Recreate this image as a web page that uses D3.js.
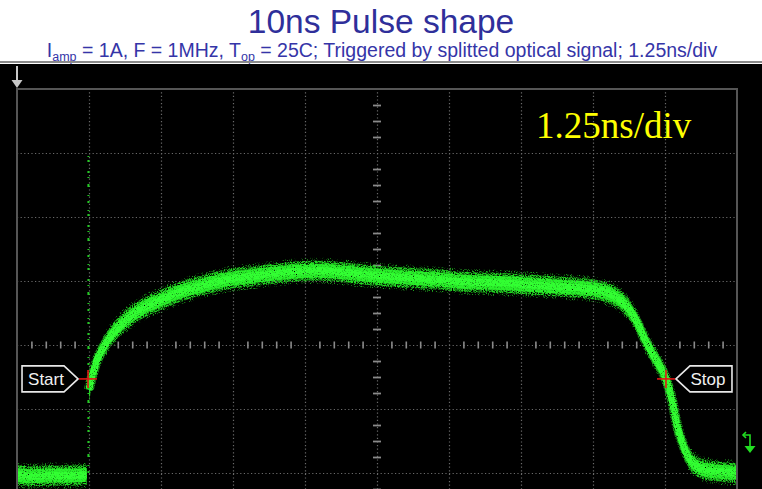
<!DOCTYPE html>
<html>
<head>
<meta charset="utf-8">
<script src="https://cdn.jsdelivr.net/npm/d3@7/dist/d3.min.js"></script>
<style>
  html, body { margin: 0; padding: 0; background: #ffffff; }
  svg { display: block; }
</style>
</head>
<body>
<svg id="chart" width="762" height="489"></svg>
<script>
// ---------------- DATA ----------------
const titleText = "10ns Pulse shape";
const timePerDiv = 1.25;            // ns / div
const hDivisions = 10;
const vDivisions = 8;
const scaleLabel = "1.25ns/div";

// Trace before the trigger edge (time in ns, level in divisions from centre)
const preTriggerTime  = [0.00, 0.30, 0.60, 0.90, 1.21];
const preTriggerLevel = [-2.03, -2.05, -2.04, -2.04, -2.03];

// Sparse trigger edge (single time, level range)
const edgeTime = 1.24;
const edgeLevels = [-2.0, 3.0];

// Main pulse trace
const pulseTime  = [1.25, 1.285, 1.337, 1.389, 1.476, 1.580, 1.701, 1.875, 2.135, 2.483, 2.830, 3.177, 3.698, 4.219, 4.740, 5.260, 5.781, 6.302, 6.823, 7.344, 7.865, 8.385, 8.906, 9.427, 9.948, 10.208, 10.434, 10.608, 10.764, 10.903, 11.076, 11.267, 11.372, 11.458, 11.563, 11.667, 11.771, 11.944, 12.205, 12.50];
const pulseLevel = [-0.70, -0.55, -0.39, -0.23, -0.08, 0.08, 0.22, 0.375, 0.55, 0.70, 0.83, 0.92, 1.03, 1.09, 1.14, 1.16, 1.125, 1.08, 1.05, 1.02, 0.98, 0.97, 0.94, 0.91, 0.875, 0.83, 0.73, 0.58, 0.36, 0.08, -0.20, -0.53, -0.86, -1.25, -1.56, -1.77, -1.875, -1.95, -1.98, -2.00];

// Cursor markers
const markerNames = ["Start", "Stop"];
const markerTime  = [1.233, 11.267];
const markerLevel = [-0.53, -0.53];

// ---------------- LAYOUT ----------------
const svg = d3.select("#chart");
const plotLeft = 17, plotTop = 89, divW = 72, divH = 64;
const plotW = divW * hDivisions, plotH = divH * vDivisions;

const x = d3.scaleLinear().domain([0, timePerDiv * hDivisions]).range([plotLeft, plotLeft + plotW]);
const y = d3.scaleLinear().domain([-vDivisions / 2, vDivisions / 2]).range([plotTop + plotH, plotTop]);

// ---------------- HEADER ----------------
svg.append("rect").attr("x", 0).attr("y", 0).attr("width", 762).attr("height", 64).attr("fill", "#ffffff");
svg.append("text")
  .attr("x", 381).attr("y", 33)
  .attr("text-anchor", "middle")
  .attr("font-family", "Liberation Sans, Arial, sans-serif")
  .attr("font-size", 33.5)
  .attr("fill", "#2f2f9a")
  .text(titleText);

const sub = svg.append("text")
  .attr("x", 382).attr("y", 57)
  .attr("text-anchor", "middle")
  .attr("font-family", "Liberation Sans, Arial, sans-serif")
  .attr("font-size", 19.5)
  .attr("fill", "#3535a8");
sub.append("tspan").text("I");
sub.append("tspan").attr("font-size", 12.5).attr("dy", 3.5).text("amp");
sub.append("tspan").attr("dy", -3.5).text(" = 1A, F = 1MHz, T");
sub.append("tspan").attr("font-size", 12.5).attr("dy", 3.5).text("op");
sub.append("tspan").attr("dy", -3.5).text(" = 25C; Triggered by splitted optical signal; 1.25ns/div");

svg.append("rect").attr("x", 0).attr("y", 61).attr("width", 762).attr("height", 2).attr("fill", "#8a8a8a");

// ---------------- SCOPE SCREEN ----------------
svg.append("rect").attr("x", 0).attr("y", 64).attr("width", 762).attr("height", 489 - 64).attr("fill", "#000000");

const defs = svg.append("defs");
function speckle(id, seed, freq, gain, offset) {
  const f = defs.append("filter").attr("id", id)
    .attr("filterUnits", "userSpaceOnUse")
    .attr("x", 0).attr("y", 0).attr("width", 762).attr("height", 489);
  f.append("feTurbulence").attr("type", "fractalNoise").attr("baseFrequency", freq)
    .attr("numOctaves", 2).attr("seed", seed).attr("result", "noise");
  f.append("feColorMatrix").attr("in", "noise").attr("type", "matrix")
    .attr("values", `0 0 0 0 0  0 0 0 0 0  0 0 0 0 0  ${gain} 0 0 0 ${offset}`).attr("result", "mask");
  f.append("feComposite").attr("in", "SourceGraphic").attr("in2", "mask").attr("operator", "in");
}
speckle("spSparse", 3, 0.95, 5, -2.7);
speckle("spMid", 11, 0.9, 4, -1.4);
speckle("spDense", 21, 0.9, 4, -0.9);

const screen = svg.append("g");

// Grid: verticals
const vGridVals = d3.range(1, hDivisions).map(i => i * timePerDiv);
const gV = screen.append("g")
  .attr("transform", `translate(0,${plotTop + plotH})`)
  .call(d3.axisBottom(x).tickValues(vGridVals).tickSize(-plotH).tickFormat(""));
gV.select(".domain").remove();
gV.selectAll("line").attr("stroke", "#6a6a6a").attr("stroke-width", 1.2).attr("stroke-dasharray", "1.2,2.4");

// Grid: horizontals
const hGridVals = d3.range(-vDivisions / 2 + 1, vDivisions / 2);
const gH = screen.append("g")
  .attr("transform", `translate(${plotLeft},0)`)
  .call(d3.axisLeft(y).tickValues(hGridVals).tickSize(-plotW).tickFormat(""));
gH.select(".domain").remove();
gH.selectAll("line").attr("stroke", "#6a6a6a").attr("stroke-width", 1.2).attr("stroke-dasharray", "1.2,2.4");

// Centre horizontal minor ticks (5 per div)
const hMinor = d3.range(1, hDivisions * 5).map(i => i * timePerDiv / 5).filter(v => Math.abs((v / timePerDiv) - Math.round(v / timePerDiv)) > 1e-6);
const gHC = screen.append("g")
  .attr("transform", `translate(0,${y(0)})`)
  .call(d3.axisBottom(x).tickValues(hMinor).tickSize(3.5).tickFormat(""));
gHC.select(".domain").remove();
gHC.selectAll("line").attr("y1", -3.5).attr("stroke", "#8a8a8a").attr("stroke-width", 1.6);

// Centre vertical minor ticks (4 per div)
const vMinor = d3.range(-vDivisions * 2 + 1, vDivisions * 2).map(i => i / 4).filter(v => Math.abs(v - Math.round(v)) > 1e-6);
const gVC = screen.append("g")
  .attr("transform", `translate(${x(timePerDiv * hDivisions / 2)},0)`)
  .call(d3.axisLeft(y).tickValues(vMinor).tickSize(4).tickFormat(""));
gVC.select(".domain").remove();
gVC.selectAll("line").attr("x2", 4).attr("x1", -4).attr("stroke", "#8a8a8a").attr("stroke-width", 1.8);

// ---------------- TRACE ----------------
const pulse = pulseTime.map((t, i) => ({ t, v: pulseLevel[i] }));
const pre = preTriggerTime.map((t, i) => ({ t, v: preTriggerLevel[i] }));

const trace = screen.append("g");
function band(data, half, color, filt) {
  const a = d3.area().x(d => x(d.t)).y0(d => y(d.v) + half).y1(d => y(d.v) - half).curve(d3.curveMonotoneX);
  trace.append("path").datum(data).attr("d", a).attr("fill", color).attr("filter", `url(#${filt})`);
}
function core(data, w, color, filt) {
  const l = d3.line().x(d => x(d.t)).y(d => y(d.v)).curve(d3.curveMonotoneX);
  trace.append("path").datum(data).attr("d", l).attr("fill", "none")
    .attr("stroke", color).attr("stroke-width", w).attr("stroke-linecap", "butt").attr("filter", `url(#${filt})`);
}
[pre, pulse].forEach(data => {
  band(data, 13, "#1faa1f", "spSparse");
  band(data, 10, "#22d822", "spMid");
  core(data, 10, "#1ea81e", "spMid");
  band(data, 7, "#2af02a", "spDense");
  core(data, 7, "#33ff33", "spDense");
});

// Sparse trigger edge
trace.append("line")
  .attr("x1", x(edgeTime)).attr("x2", x(edgeTime))
  .attr("y1", y(edgeLevels[0])).attr("y2", y(edgeLevels[1]))
  .attr("stroke", "#22cc22").attr("stroke-width", 2)
  .attr("stroke-dasharray", "2,5,1,8,3,6,1,4,2,9,2,3,1,7");

// Frame (drawn over trace ends)
screen.append("rect")
  .attr("x", x.range()[0]).attr("y", y.range()[1])
  .attr("width", x.range()[1] - x.range()[0]).attr("height", y.range()[0] - y.range()[1])
  .attr("fill", "none").attr("stroke", "#555555").attr("stroke-width", 2);

// ---------------- MARKERS ----------------
markerNames.forEach((name, i) => {
  const cx = x(markerTime[i]), cy = y(markerLevel[i]);
  const g = screen.append("g");
  const dir = i === 0 ? -1 : 1;
  const tip = cx + dir * 10, bodyStart = cx + dir * 24, end = cx + dir * 66;
  const pts = [[tip, cy], [bodyStart, cy - 13], [end, cy - 13], [end, cy + 13], [bodyStart, cy + 13]];
  g.append("polygon").attr("points", pts.map(p => p.join(",")).join(" "))
    .attr("fill", "#000").attr("stroke", "#e8e8e8").attr("stroke-width", 1.6);
  g.append("text")
    .attr("x", (bodyStart + end) / 2 + dir * -3).attr("y", cy + 6)
    .attr("text-anchor", "middle")
    .attr("font-family", "Liberation Sans, Arial, sans-serif")
    .attr("font-size", 17).attr("fill", "#f0f0f0")
    .text(name);
  g.append("line").attr("x1", cx - 9).attr("x2", cx + 9).attr("y1", cy).attr("y2", cy).attr("stroke", "#e01515").attr("stroke-width", 1.6);
  g.append("line").attr("x1", cx).attr("x2", cx).attr("y1", cy - 9).attr("y2", cy + 9).attr("stroke", "#e01515").attr("stroke-width", 1.6);
});

// ---------------- SCOPE ANNOTATIONS ----------------
screen.append("text")
  .attr("x", 536).attr("y", 138)
  .attr("font-family", "Liberation Serif, Times New Roman, serif")
  .attr("font-size", 37).attr("fill", "#ffff00")
  .text(scaleLabel);

// trigger position arrow (top-left)
const ax = x.range()[0];
screen.append("line").attr("x1", ax).attr("x2", ax).attr("y1", 66).attr("y2", 81).attr("stroke", "#c8c8c8").attr("stroke-width", 2);
screen.append("polygon").attr("points", `${ax - 5.5},80 ${ax + 5.5},80 ${ax},88`).attr("fill", "#c8c8c8");

// trigger level icon (right)
const ix = x.range()[1] + 13, iy = 435;
screen.append("path").attr("d", `M${ix - 7},${iy} L${ix},${iy} L${ix},${iy + 12}`).attr("fill", "none").attr("stroke", "#22dd22").attr("stroke-width", 1.6);
screen.append("path").attr("d", `M${ix - 4},${iy - 3} L${ix - 7},${iy} L${ix - 4},${iy + 3}`).attr("fill", "none").attr("stroke", "#22dd22").attr("stroke-width", 1.6);
screen.append("polygon").attr("points", `${ix - 5.5},${iy + 11} ${ix + 5.5},${iy + 11} ${ix},${iy + 18}`).attr("fill", "#22dd22");
</script>
</body>
</html>
